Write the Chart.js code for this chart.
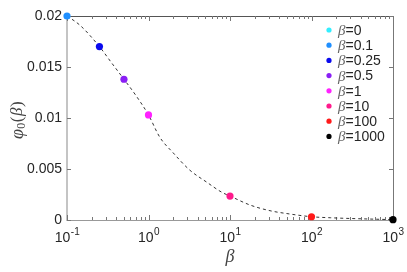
<!DOCTYPE html>
<html>
<head>
<meta charset="utf-8">
<script src="https://cdn.jsdelivr.net/npm/chart.js@4.4.0/dist/chart.umd.min.js"></script>
<style>
  html, body { margin: 0; padding: 0; background: #fff; }
  #wrap { width: 407px; height: 272px; }
</style>
</head>
<body>
<div id="wrap"><canvas id="chartCanvas" width="407" height="272"></canvas></div>
<script>
// marked values, one per beta
var betaLabels = ['0', '0.1', '0.25', '0.5', '1', '10', '100', '1000'];
var betaValues = [0, 0.1, 0.25, 0.5, 1, 10, 100, 1000];
var phiValues = [0.0200, 0.0200, 0.0170, 0.0138, 0.0103, 0.00235, 0.00032, 0.00003];
var betaColors = ['#33eeff', '#1f8fff', '#0a0aee', '#8a1ff5', '#ff22ff', '#ff1a8c', '#ff1a1a', '#000000'];

// dashed curve
var curveBeta = [0.1, 0.144, 0.25, 0.353, 0.5, 0.716, 1, 1.38, 2, 3.2, 5.2, 8, 10, 17.6, 31, 54, 100, 170, 1000];
var curvePhi = [0.0200, 0.0191, 0.0170, 0.0154, 0.0138, 0.0121, 0.0103, 0.0081, 0.0066, 0.0049, 0.0037, 0.0027, 0.00235, 0.00147, 0.00091, 0.00059, 0.00032, 0.00022, 0.00003];

// ticks
var yTicks = [0, 0.005, 0.01, 0.015, 0.02];
var yTickLabels = ['0', '0.005', '0.01', '0.015', '0.02'];
var xDecades = [-1, 0, 1, 2, 3];

var curvePoints = curveBeta.map(function (b, i) { return { x: b, y: curvePhi[i] }; });
var markerPoints = [], markerColors = [];
betaValues.forEach(function (b, i) {
  if (b > 0) { // beta=0 has no place on a log axis
    markerPoints.push({ x: b, y: phiValues[i] });
    markerColors.push(betaColors[i]);
  }
});

var textColor = '#262626';
var sans = "'Liberation Sans', Arial, sans-serif";
var serif = "'Liberation Serif', 'DejaVu Serif', serif";

var axesPlugin = {
  id: 'axesPlugin',
  beforeDatasetsDraw: function (chart) {
    var ctx = chart.ctx, a = chart.chartArea,
        xs = chart.scales.x, ys = chart.scales.y;
    ctx.save();
    ctx.lineWidth = 1;

    // box
    ctx.strokeStyle = '#555';
    ctx.beginPath();
    ctx.moveTo(a.left, a.top + 0.5); ctx.lineTo(a.right, a.top + 0.5);
    ctx.stroke();
    ctx.strokeStyle = '#777';
    ctx.beginPath();
    ctx.moveTo(a.right + 0.5, a.top); ctx.lineTo(a.right + 0.5, a.bottom);
    ctx.stroke();
    ctx.strokeStyle = '#999';
    ctx.beginPath();
    ctx.moveTo(a.left, a.bottom + 0.5); ctx.lineTo(a.right, a.bottom + 0.5);
    ctx.stroke();
    ctx.strokeStyle = '#c4c4c4';
    ctx.lineWidth = 2;
    ctx.beginPath();
    ctx.moveTo(a.left, a.top); ctx.lineTo(a.left, a.bottom + 1);
    ctx.stroke();

    // y ticks and labels
    ctx.lineWidth = 1;
    ctx.strokeStyle = '#777';
    ctx.fillStyle = textColor;
    ctx.font = '14px ' + sans;
    ctx.textAlign = 'right';
    ctx.textBaseline = 'middle';
    yTicks.forEach(function (v, i) {
      var py = Math.round(ys.getPixelForValue(v)) + 0.5;
      ctx.beginPath();
      ctx.moveTo(a.left, py); ctx.lineTo(a.left + 4, py);
      ctx.moveTo(a.right, py); ctx.lineTo(a.right - 4, py);
      ctx.stroke();
      ctx.fillText(yTickLabels[i], a.left - 5, py);
    });

    // x ticks, decades and minor 2..9
    for (var d = xDecades[0]; d <= xDecades[xDecades.length - 1]; d++) {
      for (var m = 1; m < 10; m++) {
        if (d === xDecades[xDecades.length - 1] && m > 1) break;
        var px = Math.round(xs.getPixelForValue(m * Math.pow(10, d))) + 0.5;
        var len = m === 1 ? 5 : 3;
        ctx.beginPath();
        ctx.moveTo(px, a.bottom); ctx.lineTo(px, a.bottom - len);
        ctx.moveTo(px, a.top); ctx.lineTo(px, a.top + len);
        ctx.stroke();
      }
    }

    // x labels 10^d
    ctx.textAlign = 'left';
    ctx.textBaseline = 'alphabetic';
    xDecades.forEach(function (d) {
      var px = xs.getPixelForValue(Math.pow(10, d));
      var sup = String(d);
      ctx.font = '14px ' + sans;
      var w1 = ctx.measureText('10').width;
      ctx.font = '10px ' + sans;
      var w2 = ctx.measureText(sup).width;
      var x0 = px - (w1 + w2) / 2;
      ctx.font = '14px ' + sans;
      ctx.fillText('10', x0, a.bottom + 22);
      ctx.font = '10px ' + sans;
      ctx.fillText(sup, x0 + w1 + 0.5, a.bottom + 15);
    });

    // x title
    ctx.textAlign = 'center';
    ctx.textBaseline = 'middle';
    ctx.font = 'italic 18px ' + serif;
    ctx.fillStyle = '#444';
    ctx.fillText('\u03b2', (a.left + a.right) / 2, a.bottom + 37);

    // y title, rotated
    ctx.translate(18, (a.top + a.bottom) / 2 + 2);
    ctx.rotate(-Math.PI / 2);
    var parts = [
      { t: '\u03c6', f: 'italic 18px ' + serif, dy: 0 },
      { t: '0', f: '12px ' + serif, dy: 4 },
      { t: '(', f: '17px ' + serif, dy: 0 },
      { t: '\u03b2', f: 'italic 17px ' + serif, dy: 0 },
      { t: ')', f: '17px ' + serif, dy: 0 }
    ];
    var total = 0;
    parts.forEach(function (p) { ctx.font = p.f; p.w = ctx.measureText(p.t).width; total += p.w + 0.5; });
    var cx = -total / 2;
    ctx.textAlign = 'left';
    parts.forEach(function (p) {
      ctx.font = p.f;
      ctx.fillText(p.t, cx, p.dy);
      cx += p.w + 0.5;
    });
    ctx.restore();
  },
  afterDraw: function (chart) {
    var ctx = chart.ctx;
    ctx.save();
    ctx.textBaseline = 'middle';
    ctx.textAlign = 'left';
    betaLabels.forEach(function (lab, i) {
      var y = 30 + i * 15.2;
      ctx.fillStyle = betaColors[i];
      ctx.beginPath();
      ctx.arc(329, y, 2.6, 0, Math.PI * 2);
      ctx.fill();
      ctx.font = 'italic 15px ' + serif;
      ctx.fillStyle = '#666';
      ctx.fillText('\u03b2', 338, y + 1);
      var bw = ctx.measureText('\u03b2').width;
      ctx.font = '14px ' + sans;
      ctx.fillStyle = textColor;
      ctx.fillText('=' + lab, 338 + bw, y + 1);
    });
    ctx.restore();
  }
};

var chartLine = new Chart(document.getElementById('chartCanvas').getContext('2d'), {
  type: 'scatter',
  data: {
    datasets: [{
      data: markerPoints,
      pointBackgroundColor: markerColors,
      pointBorderWidth: 0,
      pointRadius: 3.6,
      clip: false
    }, {
      type: 'line',
      data: curvePoints,
      borderColor: '#333',
      borderWidth: 1,
      borderDash: [3, 3],
      pointRadius: 0,
      fill: false,
      cubicInterpolationMode: 'monotone',
      clip: false
    }]
  },
  options: {
    responsive: false,
    animation: false,
    devicePixelRatio: 1,
    layout: { padding: { left: 67, right: 14, top: 16, bottom: 52 } },
    scales: {
      x: { type: 'logarithmic', min: 0.1, max: 1000, display: false },
      y: { type: 'linear', min: 0, max: 0.02, display: false }
    },
    plugins: {
      legend: { display: false },
      tooltip: { enabled: false }
    }
  },
  plugins: [axesPlugin]
});
</script>
</body>
</html>
